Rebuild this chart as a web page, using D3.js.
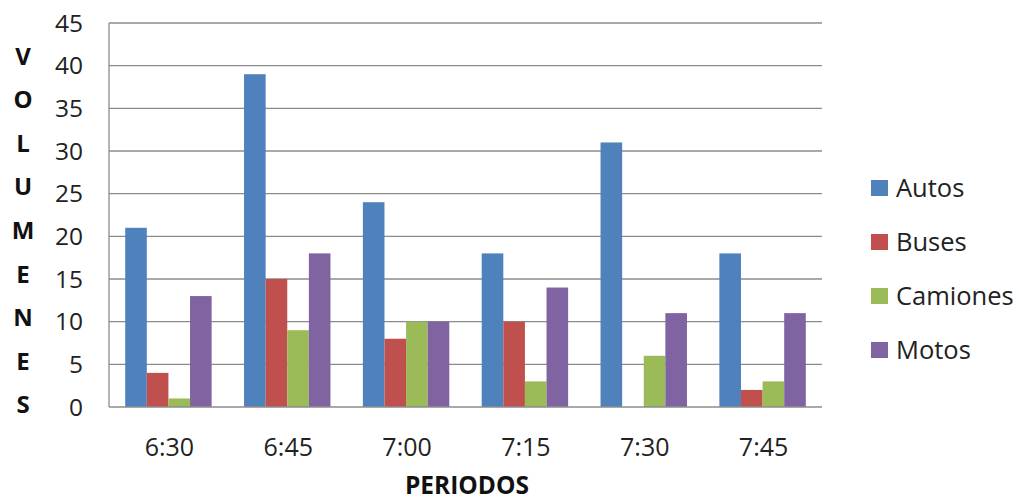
<!DOCTYPE html>
<html><head><meta charset="utf-8">
<script src="https://cdn.jsdelivr.net/npm/d3@7"></script>
<style>body{margin:0;background:#fff}svg{display:block}text{font-family:"Open Sans","Noto Sans",sans-serif}</style>
</head><body>
<script>
const periods = ["6:30","6:45","7:00","7:15","7:30","7:45"];
const seriesNames = ["Autos","Buses","Camiones","Motos"];
const autos    = [21,39,24,18,31,18];
const buses    = [4,15,8,10,0,2];
const camiones = [1,9,10,3,6,3];
const motos    = [13,18,10,14,11,11];
const colors = ["#4F81BD","#C0504D","#9BBB59","#8064A2"];
const yTicks = [0,5,10,15,20,25,30,35,40,45];
const yTitle = "VOLUMENES";
const xTitle = "PERIODOS";

const series = [autos,buses,camiones,motos];
const W=1019,H=502;
const m={left:109,right:822,top:23,bottom:407};
const svg=d3.select("body").append("svg").attr("width",W).attr("height",H);

const x=d3.scaleBand().domain(periods).range([m.left,m.right]).paddingInner(0).paddingOuter(0);
const x1=d3.scaleBand().domain(seriesNames).range([0,x.bandwidth()]).paddingInner(0).paddingOuter(0.75);
const y=d3.scaleLinear().domain([0,45]).range([m.bottom,m.top]);

// gridlines
svg.append("g").selectAll("line").data(yTicks.filter(d=>d>0)).join("line")
  .attr("x1",m.left).attr("x2",m.right).attr("y1",d=>y(d)).attr("y2",d=>y(d))
  .attr("stroke","#8c8c8c").attr("stroke-width",1.3);

// bars
const rows = periods.map((p,i)=>({p, vals: seriesNames.map((s,j)=>({s, v: series[j][i], c: colors[j]}))}));
const g=svg.append("g").selectAll("g").data(rows).join("g").attr("transform",d=>`translate(${x(d.p)},0)`);
g.selectAll("rect").data(d=>d.vals.filter(v=>v.v>0)).join("rect")
  .attr("x",d=>x1(d.s)).attr("width",x1.bandwidth())
  .attr("y",d=>y(d.v)).attr("height",d=>y(0)-y(d.v))
  .attr("fill",d=>d.c);

// axes lines
svg.append("line").attr("x1",m.left).attr("x2",m.left).attr("y1",m.top).attr("y2",m.bottom).attr("stroke","#8c8c8c").attr("stroke-width",1.3);
svg.append("line").attr("x1",m.left).attr("x2",m.right).attr("y1",m.bottom).attr("y2",m.bottom).attr("stroke","#8c8c8c").attr("stroke-width",1.3);

// y tick labels
svg.append("g").selectAll("text").data(yTicks).join("text")
  .attr("x",83).attr("y",d=>y(d)).attr("dy","0.36em").attr("text-anchor","end")
  .attr("font-size",24.5).attr("fill","#222").text(d=>d);

// x tick labels
svg.append("g").selectAll("text").data(periods).join("text")
  .attr("x",d=>x(d)+x.bandwidth()/2+1).attr("y",447).attr("dy","0.36em").attr("text-anchor","middle")
  .attr("font-size",25).attr("fill","#222").text(d=>d);

// y title stacked letters
const letters = yTitle.split("");
svg.append("g").selectAll("text").data(letters).join("text")
  .attr("x",23).attr("y",(d,i)=>56+i*43.6).attr("dy","0.36em").attr("text-anchor","middle")
  .attr("font-size",24).attr("font-weight","bold").attr("fill","#111").text(d=>d);

// x title
svg.append("text").attr("x",467).attr("y",494).attr("text-anchor","middle")
  .attr("font-size",24.5).attr("font-weight","bold").attr("fill","#111").text(xTitle);

// legend
const lg=svg.append("g").selectAll("g").data(seriesNames).join("g")
  .attr("transform",(d,i)=>`translate(871,${188+i*54})`);
lg.append("rect").attr("x",0).attr("y",-8).attr("width",17).attr("height",16).attr("fill",(d,i)=>colors[i]);
lg.append("text").attr("x",25).attr("y",0).attr("dy","0.36em").attr("font-size",25.5).attr("fill","#222").text(d=>d);
</script>
</body></html>
